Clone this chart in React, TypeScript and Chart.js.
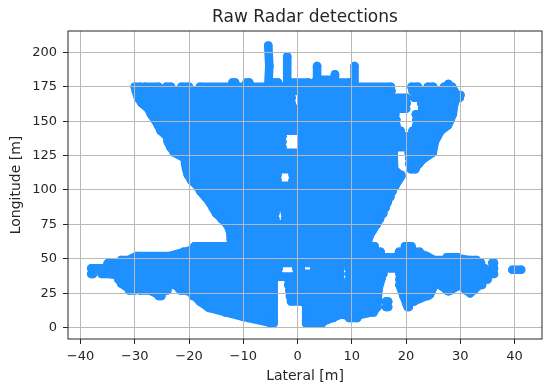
import React, { useEffect, useRef } from "react";
import { Chart, registerables } from "chart.js";

Chart.register(...registerables);

const chartTitle = "Raw Radar detections";
const xTitle = "Lateral [m]";
const yTitle = "Longitude [m]";
const xRange = [-42.3, 45.05];
const yRange = [-8.3, 215.5];

// Each detection band: [longitude, [lateral start, lateral end, lateral start, lateral end, ...]]
const lowerBands: [number, number[]][] = [
  [3, [-5, -4.5, 1.6, 4.5]],
  [7, [-9, -4.5, 1.6, 6.6, 9.5, 11]],
  [11, [-13.3, -4.5, 1.6, 14]],
  [15, [-16.5, -4.5, 2.2, 14.7, 16.3, 16.7, 20.3, 20.5]],
  [19, [-18, -4.5, -1.2, 14.7, 16.3, 16.7, 20, 21.5]],
  [23, [-25.6, -25.1, -19.3, -4.5, -1.4, 14.7, 19.5, 24]],
  [27, [-31, -30, -29, -27, -26.5, -24, -21.5, -4.5, -1.5, 14.9, 19.2, 24.5, 27.5, 28.2, 31, 32.5]],
  [31, [-31.5, -4.5, -1.7, 15, 18.8, 25.4, 26.7, 29.5, 30.5, 34]],
  [35, [-33, -4.4, -1.7, 7.9, 9.5, 15.3, 18.8, 35]],
  [37, [-4.4, -0.2]],
  [39, [-38, -37.7, -36.1, -35.4, -33.5, -3.5, -0.2, 7.9, 9.5, 15.8, 18.8, 34.5, 35.9, 36.2]],
  [42, [39.6, 41.2]],
  [43, [-38, -3.5, -0.2, 0.6, 3.1, 7.9, 9.5, 34.5, 35.9, 36.2]],
  [47, [-34.8, 33.8, 35.9, 36.2]],
  [49, [-32.5, 33]],
  [51, [-30, 24, 27.5, 29.5]],
  [55, [-21, 15.3, 18.7, 22.5]],
  [59, [-19, 14.2, 19.8, 21]],
  [63, [-12, 12.8]],
];

const upperBands: [number, number[]][] = [
  [67, [-12.3, 13.3]],
  [71, [-12.5, 13.9]],
  [75, [-13, 14.6]],
  [79, [-14, -4.1, -2.3, 15.2]],
  [83, [-15, -4.1, -2.3, 15.8]],
  [87, [-15.6, 16.2]],
  [91, [-16.2, 16.6]],
  [95, [-17, 17.1]],
  [99, [-17.9, 17.5]],
  [103, [-18.5, 18]],
  [107, [-19.6, -3.7, -0.9, 18.6]],
  [111, [-20.2, -3.7, -0.9, 19.1]],
  [115, [-20.5, 17.8, 20.9, 21.7]],
  [119, [-20.7, 17.7, 20.6, 22.4]],
  [123, [-20.8, 17.7, 20.6, 23]],
  [127, [-22.7, 17.7, 20.5, 24.9]],
  [131, [-23.4, -2.8, 0.8, 25.1]],
  [135, [-23.9, -2.8, 0.8, 25.3]],
  [139, [-24.1, -2.8, 0.8, 25.8]],
  [143, [-25.2, 19, 21.2, 26.4]],
  [147, [-25.7, 18.2, 21.9, 27.7]],
  [151, [-26.3, 18.2, 21.9, 28.2]],
  [155, [-27, 18, 21.8, 28.6]],
  [159, [-27.5, 20, 23, 28.7]],
  [163, [-28.7, -1.1, 0.7, 20.1, 22.8, 28.9]],
  [167, [-29.4, -1.1, 0.7, 20.1, 21.5, 29.9]],
  [169, [30, 30]],
  [172, [-29.8, 17.3, 21.2, 28.9]],
  [175, [-30, -29, -28.2, -25.6, -24.2, -23.3, -21.4, -20, -18, 17.2, 21, 22.2, 24, 25, 27, 28.5]],
  [177, [27.8, 27.8]],
  [178, [-12, -11.5, -9.4, -8.9, -4.2, -3.6, -1.5, 2, 3, 9.5]],
  [180, [3.6, 6.9]],
];

// Outer edges of the detection cloud: lateral, longitude, lateral, longitude, ...
const upperLeftEdge = [-12.3, 64, -12.3, 67, -12.5, 71, -13, 75, -14, 79, -15, 83, -15.6, 87, -16.2, 91, -17, 95, -17.9, 99, -18.5, 103, -19.6, 107, -20.2, 111, -20.5, 115, -20.7, 119, -20.8, 123, -22.7, 127, -23.4, 131, -23.9, 135, -24.1, 139, -25.2, 143, -25.7, 147, -26.3, 151, -27, 155, -27.5, 159, -28.7, 163, -29.4, 167, -29.8, 172];
const leftWingTop = [-12.4, 59, -19, 57, -23.5, 52, -29.7, 52, -31.8, 48, -35, 46.6];
const leftWingBottom = [-34.8, 39, -33.2, 38, -32.5, 32, -31, 28, -27.8, 28, -25.4, 23.6, -23, 33.5, -21.8, 28, -19.8, 26, -18, 19, -16.3, 14.3, -10, 7.8, -5, 3.4, -4.5, 3, -4.4, 35];
const centreBottom = [-1.2, 20.6, 1.6, 18, 1.6, 4, 4.5, 4, 8.1, 9.7, 10, 7.9, 14, 11.5, 14.7, 15, 14.9, 28, 15.5, 36];
const upperRightEdge = [13, 63, 13.3, 67, 13.9, 71, 14.7, 75.8, 16.2, 87.7, 17.5, 100, 18, 103, 19.1, 110, 17.8, 115, 17.7, 127];
const rightWingBottom = [18.8, 31, 20.1, 17, 24.4, 24, 25.5, 33, 27.8, 26.5, 30, 31, 31.8, 25, 34, 32.6, 34.5, 40];
const rightWingTop = [19.5, 55.5, 21.4, 55.5, 23.8, 52, 25.7, 48, 28.7, 51, 31.8, 49, 33.6, 46.6];
const upperWingEdge = [21.7, 116, 23, 122, 24.9, 127, 25.3, 135, 25.8, 139, 26.4, 143, 27.7, 147, 28.2, 151, 28.6, 155, 28.9, 163, 29.5, 168];
const spikeA = [-5.4, 175, -5.2, 190, -5.4, 205];
const spikeB = [-1.9, 175, -1.9, 197];
const spikeC = [3.6, 175, 3.6, 190];
const spikeD = [6.9, 175, 6.9, 184];
const spikeE = [10.5, 175, 10.5, 190];
const edges = [upperLeftEdge, leftWingTop, leftWingBottom, centreBottom, upperRightEdge, rightWingBottom, rightWingTop, upperWingEdge, spikeA, spikeB, spikeC, spikeD, spikeE];

const detections: { x: number | null; y: number | null }[] = [];
for (const [longitude, spans] of [...lowerBands, ...upperBands]) {
  for (let i = 0; i < spans.length; i += 2) {
    detections.push({ x: spans[i], y: longitude });
    detections.push({ x: spans[i + 1], y: longitude });
    detections.push({ x: null, y: null });
  }
}
for (const edge of edges) {
  for (let i = 0; i < edge.length; i += 2) {
    detections.push({ x: edge[i], y: edge[i + 1] });
  }
  detections.push({ x: null, y: null });
}

const frame = {
  id: "frame",
  afterDraw(chart: any) {
    const { ctx, chartArea: a } = chart;
    ctx.save();
    ctx.strokeStyle = "#262626";
    ctx.lineWidth = 1;
    ctx.strokeRect(a.left, a.top, a.right - a.left, a.bottom - a.top);
    ctx.restore();
  },
};

const font = "'DejaVu Sans'";
const textColor = "#262626";
const tickText = (v: any) => String(v).replace("-", "\u2212");

export default function App() {
  const ref = useRef<HTMLCanvasElement>(null);
  useEffect(() => {
    const chart = new Chart(ref.current!, {
      type: "scatter",
      data: {
        datasets: [
          {
            data: detections as any,
            showLine: true,
            spanGaps: false,
            borderColor: "#1e90ff",
            borderWidth: 8.6,
            borderCapStyle: "round",
            borderJoinStyle: "round",
            backgroundColor: "#1e90ff",
            pointBackgroundColor: "#1e90ff",
            pointBorderWidth: 0,
            pointRadius: 4.3,
          },
        ],
      },
      options: {
        responsive: false,
        animation: false,
        layout: { padding: { left: 0, right: 8, top: 0, bottom: 0 } },
        plugins: {
          legend: { display: false },
          tooltip: { enabled: false },
          title: {
            display: true,
            text: chartTitle,
            fullSize: false,
            color: textColor,
            font: { family: font, size: 17, weight: "normal" },
            padding: { top: 7, bottom: 3.6 },
          },
        },
        scales: {
          x: {
            type: "linear",
            min: xRange[0],
            max: xRange[1],
            afterFit: (s: any) => {
              s.height = 52;
            },
            title: {
              display: true,
              text: xTitle,
              color: textColor,
              font: { family: font, size: 14 },
              padding: { top: 0, bottom: 6.6 },
            },
            ticks: {
              stepSize: 10,
              includeBounds: false,
              maxRotation: 0,
              color: textColor,
              font: { family: font, size: 13 },
              padding: 4.5,
              callback: tickText,
            },
            grid: { color: "#b8b8b8", lineWidth: 1, z: 1, tickColor: "#262626", tickLength: 5 },
            border: { display: false },
          },
          y: {
            type: "linear",
            min: yRange[0],
            max: yRange[1],
            afterFit: (s: any) => {
              s.width = 68;
            },
            title: {
              display: true,
              text: yTitle,
              color: textColor,
              font: { family: font, size: 14 },
              padding: { top: 8, bottom: 0 },
            },
            ticks: {
              stepSize: 25,
              includeBounds: false,
              color: textColor,
              font: { family: font, size: 13 },
              padding: 6,
              callback: tickText,
            },
            grid: { color: "#b8b8b8", lineWidth: 1, z: 1, tickColor: "#262626", tickLength: 5 },
            border: { display: false },
          },
        },
      },
      plugins: [frame],
    } as any);
    return () => chart.destroy();
  }, []);
  return (
    <canvas
      ref={ref}
      width={550}
      height={391}
      style={{ position: "absolute", left: 0, top: 0, display: "block" }}
    />
  );
}
